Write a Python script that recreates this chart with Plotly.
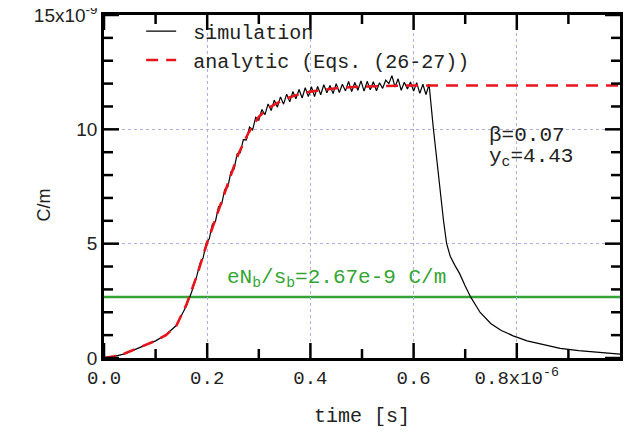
import plotly.graph_objects as go

# time in units of 1e-6 s, line charge in units of 1e-9 C/m
t_sim = [0.0, 0.02, 0.04, 0.06, 0.08, 0.10, 0.12, 0.14, 0.16, 0.17,
         0.180, 0.186, 0.192, 0.198, 0.204, 0.210, 0.216, 0.222, 0.228, 0.234,
         0.240, 0.246, 0.252, 0.258, 0.264, 0.270, 0.276, 0.282, 0.288, 0.294,
         0.300, 0.306, 0.312, 0.318, 0.324, 0.330, 0.336, 0.342, 0.348, 0.354,
         0.360, 0.366, 0.372, 0.378, 0.384, 0.390, 0.396, 0.402, 0.408, 0.414,
         0.420, 0.426, 0.432, 0.438, 0.444, 0.450, 0.456, 0.462, 0.468, 0.474,
         0.480, 0.486, 0.492, 0.498, 0.504, 0.510, 0.516, 0.522, 0.528, 0.534,
         0.540, 0.546, 0.552, 0.558, 0.564, 0.570, 0.576, 0.582, 0.588, 0.594,
         0.600, 0.606, 0.612, 0.618, 0.624, 0.630,
         0.638, 0.645, 0.651, 0.658, 0.664, 0.671, 0.680, 0.689, 0.700, 0.711,
         0.729, 0.750, 0.770, 0.793, 0.820, 0.850, 0.884, 0.920, 0.960, 1.000]
q_sim = [0.0, 0.07, 0.18, 0.36, 0.55, 0.75, 1.02, 1.42, 2.30, 2.90,
         3.60, 4.13, 4.37, 5.02, 5.21, 5.85, 5.97, 6.62, 6.73, 7.37,
         7.48, 8.14, 8.26, 8.92, 8.97, 9.55, 9.54, 10.10, 9.98, 10.52,
         10.40, 10.87, 10.64, 11.11, 10.82, 11.28, 10.97, 11.42, 11.10, 11.54,
         11.20, 11.65, 11.34, 11.74, 11.37, 11.82, 11.43, 11.86, 11.43, 11.88,
         11.51, 11.95, 11.60, 11.92, 11.56, 12.00, 11.61, 11.97, 11.68, 12.09,
         11.65, 12.05, 11.71, 12.12, 11.67, 12.10, 11.73, 12.08, 11.69, 12.04,
         11.79, 12.15, 12.00, 12.35, 11.85, 12.21, 11.71, 12.06, 11.76, 12.07,
         11.67, 12.04, 11.57, 11.97, 11.52, 11.97,
         10.10, 8.60, 7.20, 6.00, 5.00, 4.45, 4.05, 3.70, 3.15, 2.65,
         1.99, 1.50, 1.20, 0.97, 0.75, 0.58, 0.42, 0.32, 0.24, 0.17]

t_ana = [0.0, 0.02, 0.04, 0.06, 0.08, 0.10, 0.12, 0.14, 0.16, 0.18, 0.20,
         0.22, 0.24, 0.26, 0.28, 0.30, 0.32, 0.34, 0.36, 0.38, 0.40,
         0.45, 0.50, 0.55, 0.60, 0.70, 0.80, 0.90, 1.00]
q_ana = [0.0, 0.08, 0.20, 0.38, 0.55, 0.75, 1.00, 1.40, 2.35, 3.60, 5.05,
         6.35, 7.60, 8.90, 9.85, 10.55, 10.95, 11.20, 11.40, 11.55, 11.65,
         11.80, 11.87, 11.90, 11.92, 11.92, 11.92, 11.92, 11.92]

q_beam = 2.67  # eN_b/s_b
beta = 0.07
y_c = 4.43

x_range = [0, 1.0]
y_range = [0, 15]
x_ticks = [0.0, 0.2, 0.4, 0.6, 0.8]
x_ticktext = ["0.0", "0.2", "0.4", "0.6", "0.8x10<sup>-6</sup>"]
x_minor = [0.1, 0.3, 0.5, 0.7, 0.9]
y_ticks = [0, 5, 10, 15]
y_ticktext = ["0", "5", "10", "15x10<sup>-9</sup>"]
y_minor = [1, 2, 3, 4, 6, 7, 8, 9, 11, 12, 13, 14]

MONO = "Liberation Mono"
SANS = "Liberation Sans"
GREEN = "#34a534"
GRID = "#aeaee0"

fig = go.Figure()
fig.add_hline(y=q_beam, line=dict(color=GREEN, width=2.5), layer="below")
fig.add_trace(go.Scatter(x=t_sim, y=q_sim, mode="lines", name="\u00a0simulation",
                         line=dict(color="black", width=1.2)))
fig.add_trace(go.Scatter(x=t_ana, y=q_ana, mode="lines", name="\u00a0analytic (Eqs. (26-27))",
                         line=dict(color="#e8141c", width=2.6, dash="12px,8px")))

# inside tick marks on all four sides (pixel-length shapes anchored on the axis values)
tick_line = dict(color="black", width=2.5)
for vals, ln in ((x_ticks, 15), (x_minor, 9)):
    for v in vals:
        fig.add_shape(type="line", xref="x", yref="y", x0=v, x1=v, ysizemode="pixel",
                      yanchor=y_range[0], y0=0, y1=ln, line=tick_line, layer="above")
        fig.add_shape(type="line", xref="x", yref="y", x0=v, x1=v, ysizemode="pixel",
                      yanchor=y_range[1], y0=0, y1=-ln, line=tick_line, layer="above")
for vals, ln in ((y_ticks, 15), (y_minor, 9)):
    for v in vals:
        fig.add_shape(type="line", xref="x", yref="y", y0=v, y1=v, xsizemode="pixel",
                      xanchor=x_range[0], x0=0, x1=ln, line=tick_line, layer="above")
        fig.add_shape(type="line", xref="x", yref="y", y0=v, y1=v, xsizemode="pixel",
                      xanchor=x_range[1], x0=0, x1=-ln, line=tick_line, layer="above")

ann = dict(xref="paper", yref="paper", showarrow=False, yanchor="middle")
fig.add_annotation(text=f"eN<sub>b</sub>/s<sub>b</sub>={q_beam}e-9 C/m", x=0.45, y=0.232,
                   xanchor="center", font=dict(family=MONO, size=21, color=GREEN), **ann)
fig.add_annotation(text=f"β={beta:.2f}", x=0.742, y=0.650, xanchor="left",
                   font=dict(family=MONO, size=21, color="#222"), **ann)
fig.add_annotation(text=f"y<sub>c</sub>={y_c}", x=0.742, y=0.585, xanchor="left",
                   font=dict(family=MONO, size=21, color="#222"), **ann)
fig.add_annotation(text="C/m", x=-0.116, y=0.445, xanchor="center", textangle=-90,
                   font=dict(family=SANS, size=18, color="#222"), **ann)
fig.add_annotation(text="time [s]", x=0.5, y=-0.172, xanchor="center",
                   font=dict(family=MONO, size=20, color="#222"), **ann)

fig.update_layout(
    xaxis=dict(range=x_range, tickvals=x_ticks, ticktext=x_ticktext, ticks="",
               tickfont=dict(family=MONO, size=19, color="#222"),
               showline=True, linecolor="black", linewidth=2.5, mirror=True,
               showgrid=True, gridcolor=GRID, griddash="dot", zeroline=False),
    yaxis=dict(range=y_range, tickvals=y_ticks, ticktext=y_ticktext, ticks="",
               tickfont=dict(family=SANS, size=19, color="#222"), ticklabeloverflow="allow",
               showline=True, linecolor="black", linewidth=2.5, mirror=True,
               showgrid=True, gridcolor=GRID, griddash="dot", zeroline=False),
)

# page body has an 8px margin, so the figure is drawn 8px smaller
fig.update_layout(width=624, height=429, margin=dict(l=96, r=12, t=7, b=79, autoexpand=False),
                  plot_bgcolor="white", paper_bgcolor="white",
                  legend=dict(x=0.072, y=1.01, xanchor="left", yanchor="top",
                              bgcolor="rgba(0,0,0,0)", font=dict(family=MONO, size=20, color="#222"),
                              tracegroupgap=0),
                  showlegend=True)

fig.write_html("out.html")
